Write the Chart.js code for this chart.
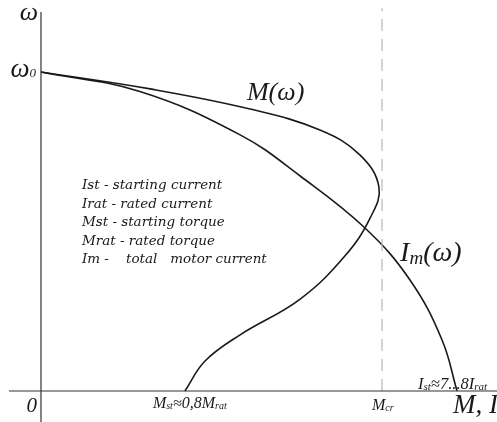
<!DOCTYPE html>
<html>
<head>
<meta charset="utf-8">
<script src="https://cdn.jsdelivr.net/npm/chart.js@4"></script>
<style>
html,body{margin:0;padding:0;background:#fff;}
#wrap{width:497px;height:422px;}
</style>
</head>
<body>
<div id="wrap"><canvas id="c" width="497" height="422"></canvas></div>
<script>
// ---- data (x: M or I relative to M_cr; y: ω relative to ω0) ----
const torqueX = [0.000,0.320,0.613,0.818,0.935,0.991,0.965,0.891,0.760,0.584,0.481,0.422];
const torqueY = [1.000,0.947,0.884,0.818,0.740,0.639,0.542,0.423,0.288,0.176,0.094,0.000];
const currentX = [0.000,0.290,0.584,0.760,0.950,1.082,1.176,1.220];
const currentY = [1.000,0.939,0.803,0.674,0.511,0.348,0.160,0.000];
const criticalX = [1, 1];
const criticalY = [0, 1.2];
const xAxisX = [-0.094, 1.34];
const xAxisY = [0, 0];
const yAxisX = [0, 0];
const yAxisY = [-0.1, 1.188];

const yAxisTitle = 'ω';
const xAxisTitle = 'M, I';
const originLabel = '0';
const yTickValues = [1];
const yTickLabels = ['ω_{0}'];
const xTickValues = [0.422, 1, 1.22];
const xTickLabels = ['M_{st}≈0,8M_{rat}', 'M_{cr}', 'I_{st}≈7...8I_{rat}'];
const curveLabels = ['M(ω)', 'I_{m}(ω)'];
const legendLines = [
  'Ist - starting current',
  'Irat - rated current',
  'Mst - starting torque',
  'Mrat - rated torque',
  'Im -    total   motor current'
];

function pts(xs, ys){ return xs.map((x,i)=>({x:x, y:ys[i]})); }

const SERIF = '"Liberation Serif", "Times New Roman", serif';
const LEGEND_FONT = '"DejaVu Serif", serif';

function parseRich(s){
  const parts=[]; const re=/_\{([^}]*)\}/g; let last=0, m;
  while((m=re.exec(s))){ if(m.index>last) parts.push([s.slice(last,m.index),false]); parts.push([m[1],true]); last=re.lastIndex; }
  if(last<s.length) parts.push([s.slice(last),false]);
  return parts;
}
function richWidth(ctx, parts, size, subSize){
  let w=0;
  for(const [t,sub] of parts){ ctx.font='italic '+(sub?subSize:size)+'px '+SERIF; w+=ctx.measureText(t).width; }
  return w;
}
function drawRich(ctx, s, x, y, size, subSize, align, subDrop){
  const parts=parseRich(s);
  const w=richWidth(ctx, parts, size, subSize);
  let cx = align==='right' ? x-w : align==='center' ? x-w/2 : x;
  ctx.textBaseline='alphabetic'; ctx.textAlign='left';
  for(const [t,sub] of parts){
    ctx.font='italic '+(sub?subSize:size)+'px '+SERIF;
    ctx.fillText(t, cx, sub ? y+(subDrop||0) : y);
    cx+=ctx.measureText(t).width;
  }
}

const textPlugin = {
  id:'texts',
  afterDatasetsDraw(chart){
    const ctx=chart.ctx, xs=chart.scales.x, ys=chart.scales.y;
    const X=v=>xs.getPixelForValue(v), Y=v=>ys.getPixelForValue(v);
    ctx.save();
    ctx.fillStyle='#1a1a1a';
    // axis titles
    drawRich(ctx, yAxisTitle, X(0)-3, Y(yAxisY[1])+8, 26, 14, 'right', 0);
    drawRich(ctx, xAxisTitle, X(1.208), Y(0)+22, 27, 16, 'left', 0);
    drawRich(ctx, originLabel, X(0)-4, Y(0)+21, 21, 12, 'right', 0);
    // y ticks
    yTickValues.forEach((v,i)=>drawRich(ctx, yTickLabels[i], X(0)-5, Y(v)+5, 27, 13, 'right', 0));
    // x ticks
    drawRich(ctx, xTickLabels[0], X(xTickValues[0])-32, Y(0)+17, 16, 10, 'left', 1);
    drawRich(ctx, xTickLabels[1], X(xTickValues[1])-10, Y(0)+19, 16, 10, 'left', 1);
    drawRich(ctx, xTickLabels[2], X(xTickValues[2])-39, Y(0)-2, 16.5, 11, 'left', 1);
    // curve labels
    drawRich(ctx, curveLabels[0], X(0.604), Y(0.912), 26, 16, 'left', 0);
    drawRich(ctx, curveLabels[1], X(1.053), Y(0.408), 28, 19, 'left', 3);
    // legend
    legendLines.forEach((t,i)=>{
      ctx.font='italic 13.5px '+LEGEND_FONT; ctx.textAlign='left'; ctx.textBaseline='alphabetic';
      ctx.fillText(t, X(0.120), Y(0.633)+i*18.5);
    });
    ctx.restore();
  }
};

new Chart(document.getElementById('c'), {
  type:'scatter',
  data:{ datasets:[
    {label:'x axis', data:pts(xAxisX,xAxisY), showLine:true, borderColor:'#333', borderWidth:1.2, pointRadius:0, tension:0},
    {label:'y axis', data:pts(yAxisX,yAxisY), showLine:true, borderColor:'#333', borderWidth:1.2, pointRadius:0, tension:0},
    {label:'M_cr', data:pts(criticalX,criticalY), showLine:true, borderColor:'#b8b8b8', borderWidth:1.2, borderDash:[12,8], pointRadius:0, tension:0},
    {label:'M(ω)', data:pts(torqueX,torqueY), showLine:true, borderColor:'#1a1a1a', borderWidth:1.6, pointRadius:0, tension:0.4},
    {label:'Im(ω)', data:pts(currentX,currentY), showLine:true, borderColor:'#1a1a1a', borderWidth:1.6, pointRadius:0, tension:0.4}
  ]},
  options:{
    responsive:false, animation:false, devicePixelRatio:1,
    layout:{padding:0},
    plugins:{legend:{display:false}, tooltip:{enabled:false}},
    scales:{
      x:{type:'linear', display:false, min:-0.1202, max:1.3372},
      y:{type:'linear', display:false, min:-0.0972, max:1.2257}
    }
  },
  plugins:[textPlugin]
});
</script>
</body>
</html>
